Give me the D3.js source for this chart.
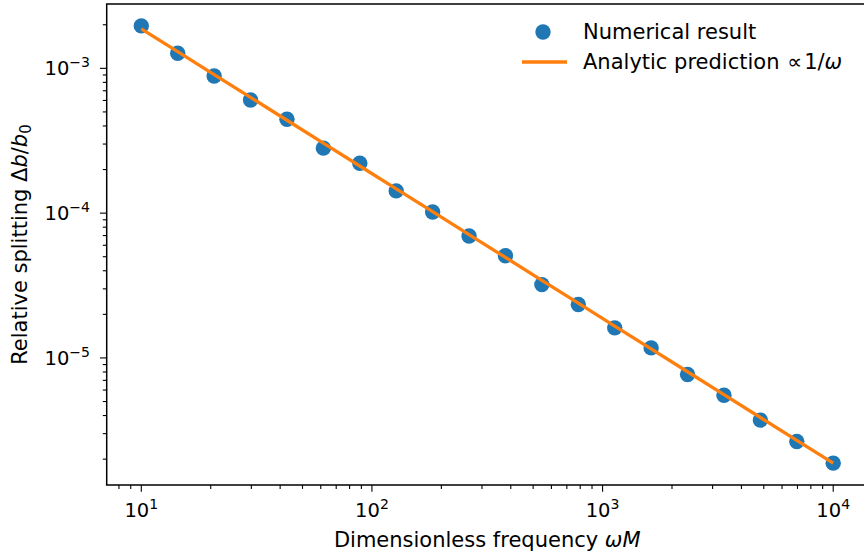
<!DOCTYPE html>
<html>
<head>
<meta charset="utf-8">
<script src="https://cdn.jsdelivr.net/npm/d3@7"></script>
<style>
  body { margin: 0; background: #fff; }
  svg { display: block; font-family: "DejaVu Sans", sans-serif; }
</style>
</head>
<body>
<svg width="864" height="555"></svg>
<script>
// numerical splitting (20 log-spaced frequencies 10..1e4)
const omega = d3.range(20).map(i => Math.pow(10, 1 + i * 3 / 19));
const splitting = [1.965e-3, 1.27e-3, 8.86e-4, 6.04e-4, 4.45e-4, 2.81e-4, 2.21e-4,
                   1.424e-4, 1.019e-4, 6.95e-5, 5.08e-5, 3.21e-5, 2.34e-5, 1.613e-5,
                   1.173e-5, 7.68e-6, 5.52e-6, 3.72e-6, 2.65e-6, 1.877e-6];
const analyticCoef = 0.01875;   // prediction = coef / omega
const xMajor = [1e1, 1e2, 1e3, 1e4];
const yMajor = [1e-3, 1e-4, 1e-5];

const blue = "#1f77b4", orange = "#ff7f0e";
const fs = 19.5;      // tick labels
const lfs = 21;       // axis labels + legend

const margin = {left: 106.7, top: 4, right: 867.8, bottom: 485};

// matplotlib style 5% margins in log space
function logPad(vals) {
  const e = d3.extent(vals.map(Math.log10));
  const p = (e[1] - e[0]) * 0.05;
  return [Math.pow(10, e[0] - p), Math.pow(10, e[1] + p)];
}

const x = d3.scaleLog().domain(logPad(omega)).range([margin.left, margin.right]);
const y = d3.scaleLog().domain(logPad(splitting)).range([margin.bottom, margin.top]);

const svg = d3.select("svg");

function minorTicks(scale) {
  const [a, b] = scale.domain();
  const out = [];
  for (let e = Math.floor(Math.log10(a)); e <= Math.ceil(Math.log10(b)); e++)
    for (let k = 2; k <= 9; k++) {
      const v = k * Math.pow(10, e);
      if (v >= a && v <= b) out.push(v);
    }
  return out;
}

// ticks
const tickG = svg.append("g").attr("stroke", "#000").attr("stroke-width", 1.1);
tickG.selectAll(".xM").data(xMajor).join("line")
  .attr("x1", d => x(d)).attr("x2", d => x(d))
  .attr("y1", margin.bottom).attr("y2", margin.bottom + 6.8);
tickG.selectAll(".xm").data(minorTicks(x)).join("line")
  .attr("x1", d => x(d)).attr("x2", d => x(d))
  .attr("y1", margin.bottom).attr("y2", margin.bottom + 3.9);
tickG.selectAll(".yM").data(yMajor).join("line")
  .attr("y1", d => y(d)).attr("y2", d => y(d))
  .attr("x1", margin.left).attr("x2", margin.left - 6.8);
tickG.selectAll(".ym").data(minorTicks(y)).join("line")
  .attr("y1", d => y(d)).attr("y2", d => y(d))
  .attr("x1", margin.left).attr("x2", margin.left - 3.9);

function powLabel(sel, exp) {
  sel.append("tspan").text("10");
  sel.append("tspan").attr("dy", -8).attr("font-size", fs * 0.72)
    .text(exp < 0 ? "\u2212" + (-exp) : exp);
}

svg.append("g").selectAll("text").data(xMajor).join("text")
  .attr("x", d => x(d)).attr("y", 517).attr("text-anchor", "middle")
  .attr("font-size", fs)
  .each(function(d) { powLabel(d3.select(this), Math.round(Math.log10(d))); });

svg.append("g").selectAll("text").data(yMajor).join("text")
  .attr("x", 90).attr("y", d => y(d) + 7).attr("text-anchor", "end")
  .attr("font-size", fs)
  .each(function(d) { powLabel(d3.select(this), Math.round(Math.log10(d))); });

// axis labels
const xl = svg.append("text").attr("x", (margin.left + margin.right) / 2).attr("y", 547)
  .attr("text-anchor", "middle").attr("font-size", lfs);
xl.append("tspan").text("Dimensionless frequency ");
xl.append("tspan").attr("font-style", "italic").text("\u03c9M");

const yl = svg.append("text")
  .attr("transform", `translate(27,${(margin.top + margin.bottom) / 2}) rotate(-90)`)
  .attr("text-anchor", "middle").attr("font-size", lfs);
yl.append("tspan").text("Relative splitting \u0394");
yl.append("tspan").attr("font-style", "italic").text("b");
yl.append("tspan").text("/");
yl.append("tspan").attr("font-style", "italic").text("b");
yl.append("tspan").attr("dy", 4).attr("font-size", lfs * 0.72).text("0");

// data
svg.append("g").selectAll("circle").data(omega).join("circle")
  .attr("cx", d => x(d)).attr("cy", (d, i) => y(splitting[i]))
  .attr("r", 7.7).attr("fill", blue);

svg.append("path")
  .attr("d", d3.line().x(d => x(d)).y(d => y(analyticCoef / d))(omega))
  .attr("fill", "none").attr("stroke", orange).attr("stroke-width", 3.3);

// frame (right edge falls outside the picture)
svg.append("rect")
  .attr("x", margin.left).attr("y", margin.top)
  .attr("width", margin.right - margin.left).attr("height", margin.bottom - margin.top)
  .attr("fill", "none").attr("stroke", "#000").attr("stroke-width", 1.5);

// legend
const lg = svg.append("g").attr("font-size", lfs);
lg.append("circle").attr("cx", 543).attr("cy", 32).attr("r", 7.7).attr("fill", blue);
lg.append("text").attr("x", 583).attr("y", 39).text("Numerical result");
lg.append("line").attr("x1", 522).attr("x2", 567).attr("y1", 62).attr("y2", 62)
  .attr("stroke", orange).attr("stroke-width", 3.3);
const at = lg.append("text").attr("x", 583).attr("y", 69);
at.append("tspan").text("Analytic prediction ");
at.append("tspan").attr("dx", 1).text("\u221d");
at.append("tspan").attr("dx", 2).text("1/");
at.append("tspan").attr("font-style", "italic").text("\u03c9");
</script>
</body>
</html>
